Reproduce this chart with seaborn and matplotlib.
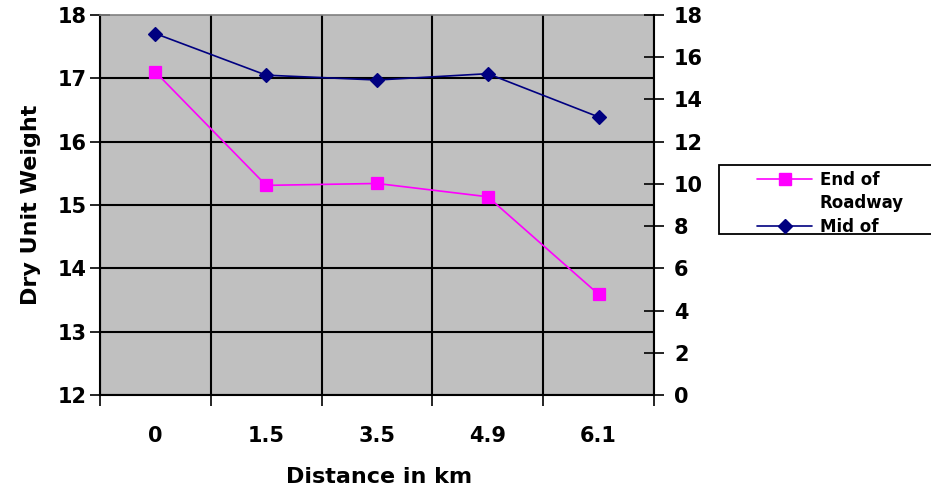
import matplotlib
matplotlib.use("Agg")
import matplotlib.pyplot as plt
import seaborn as sns
import pandas as pd
import numpy as np
from matplotlib.lines import Line2D
from matplotlib.patches import Rectangle

# ---- data ----
distances = ["0", "1.5", "3.5", "4.9", "6.1"]
end_of_roadway = [17.10, 15.31, 15.34, 15.13, 13.59]   # left axis
mid_of = [17.12, 15.15, 14.92, 15.22, 13.17]           # right axis
left_ticks = [12, 13, 14, 15, 16, 17, 18]
right_ticks = [0, 2, 4, 6, 8, 10, 12, 14, 16, 18]
legend_labels = ["End of", "Roadway", "Mid of"]

PINK = "#FF00FF"
NAVY = "#000080"

sns.set_theme(style="white")
plt.rcParams['font.family'] = ['DejaVu Sans']
plt.rcParams['font.weight'] = 'bold'

W, H = 931, 492
fig = plt.figure(figsize=(W / 100, H / 100), dpi=100)
ax = fig.add_axes([100 / W, 97 / H, 554 / W, 380 / H])
ax.set_facecolor('#C0C0C0')

df = pd.DataFrame({"Distance": distances, "End": end_of_roadway, "Mid": mid_of})

sns.pointplot(data=df, x="Distance", y="End", color=PINK, markers="s",
              linestyles="-", markersize=8, linewidth=1.2, errorbar=None, ax=ax)
ax2 = ax.twinx()
sns.pointplot(data=df, x="Distance", y="Mid", color=NAVY, markers="D",
              linestyles="-", markersize=7, linewidth=1.2, errorbar=None, ax=ax2)

n = len(distances)
ax.set_xlim(-0.5, n - 0.5)
ax.set_ylim(left_ticks[0], left_ticks[-1])
ax.set_yticks(left_ticks)
ax2.set_ylim(right_ticks[0], right_ticks[-1])
ax2.set_yticks(right_ticks)

ax.set_xticks(range(n))
ax.set_xticklabels(distances)
ax.set_xticks(np.arange(n + 1) - 0.5, minor=True)

ax.grid(False)
ax2.grid(False)
ax.grid(axis='y', which='major', color='black', linewidth=1.5)
ax.grid(axis='x', which='minor', color='black', linewidth=1.5)
ax.set_axisbelow('line')

# tick styling
ax.tick_params(axis='y', which='major', left=True, direction='inout', length=15,
               width=1.2, color='black', labelsize=15, pad=2, labelcolor='black')
ax.tick_params(axis='x', which='major', bottom=True, length=0, labelsize=15,
               pad=22, labelcolor='black')
ax.tick_params(axis='x', which='minor', bottom=True, direction='out', length=8,
               width=1.2, color='black')
ax2.tick_params(axis='y', which='major', right=True, direction='inout', length=15,
                width=1.2, color='black', labelsize=15, pad=7, labelcolor='black')

for lbl in ax.get_xticklabels() + ax.get_yticklabels() + ax2.get_yticklabels():
    lbl.set_fontweight('bold')

# spines
for s in ['left', 'bottom']:
    ax.spines[s].set_color('black')
    ax.spines[s].set_linewidth(1.5)
ax.spines['top'].set_color('#808080')
ax.spines['top'].set_linewidth(1.2)
ax.spines['right'].set_visible(False)
for s in ['left', 'top', 'bottom']:
    ax2.spines[s].set_visible(False)
ax2.spines['right'].set_color('black')
ax2.spines['right'].set_linewidth(1.5)

# labels
ax.set_ylabel("Dry Unit Weight", fontsize=16, fontweight='bold', color='black')
ax.set_xlabel("Distance in km", fontsize=16, fontweight='bold', color='black')
ax.yaxis.set_label_coords((41 - 100) / 554, 0.5)
ax.xaxis.set_label_coords((379 - 100) / 554, (395 - 467) / 380)
ax2.set_ylabel("")

fig.canvas.draw()
gl = ax.get_ygridlines()
gl[-1].set_visible(False)

# legend
box = Rectangle((719 / W, 1 - 234 / H), 0.3, 69 / H, transform=fig.transFigure,
                facecolor='white', edgecolor='black', linewidth=1.3, zorder=1)
fig.add_artist(box)
h1 = Line2D([], [], color=PINK, marker='s', markersize=8, linewidth=1.2)
blank = Line2D([], [], linestyle='none', marker=None)
h2 = Line2D([], [], color=NAVY, marker='D', markersize=7, linewidth=1.2)
leg = fig.legend(handles=[h1, blank, h2], labels=legend_labels, loc='upper left',
                 bbox_to_anchor=(757 / W, 1 - 171 / H), frameon=False,
                 borderpad=0, borderaxespad=0, handlelength=3.3,
                 handletextpad=0.45, labelspacing=0.32,
                 prop={'size': 12, 'weight': 'bold'}, labelcolor='black')
leg.set_zorder(5)

fig.savefig("out.png", dpi=100)
